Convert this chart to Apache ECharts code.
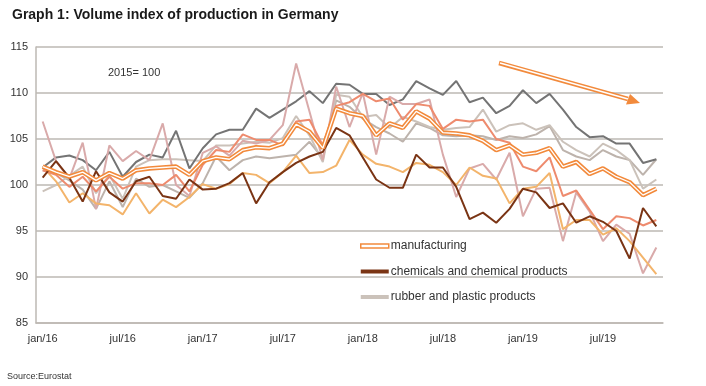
<!DOCTYPE html>
<html><head><meta charset="utf-8">
<script src="https://cdn.jsdelivr.net/npm/echarts@6/dist/echarts.min.js"></script>
<style>html,body{margin:0;padding:0;background:#fff}#c{width:706px;height:386px}</style>
</head><body><div id="c"></div>
<script>
var months = ['jan/16','feb/16','mar/16','apr/16','may/16','jun/16','jul/16','aug/16','sep/16','oct/16','nov/16','dec/16',
 'jan/17','feb/17','mar/17','apr/17','may/17','jun/17','jul/17','aug/17','sep/17','oct/17','nov/17','dec/17',
 'jan/18','feb/18','mar/18','apr/18','may/18','jun/18','jul/18','aug/18','sep/18','oct/18','nov/18','dec/18',
 'jan/19','feb/19','mar/19','apr/19','may/19','jun/19','jul/19','aug/19','sep/19','oct/19','nov/19'];
var manufacturing = [102.0,101.4,100.9,101.4,100.5,101.3,100.7,101.6,101.8,101.9,102.0,101.1,
 102.6,103.0,102.8,103.8,104.1,104.0,104.5,106.6,105.8,104.0,108.3,107.8,
 107.5,105.4,106.7,106.2,108.0,107.2,105.7,105.6,105.4,104.8,103.8,104.3,
 103.3,103.5,104.0,102.0,102.5,101.2,101.8,100.9,100.3,98.9,99.6];
var chemicals = [100.8,102.6,100.8,98.2,101.5,99.2,98.2,100.4,100.9,98.8,98.5,100.6,
 99.5,99.6,100.2,101.3,98.0,100.3,101.4,102.4,103.1,103.6,106.2,105.4,
 103.0,100.6,99.7,99.7,103.3,101.9,101.9,99.8,96.3,97.0,95.9,97.4,
 99.6,99.2,97.5,98.0,95.9,96.6,96.0,95.0,92.0,97.5,95.5];
var rubberPlastic = [99.3,100.0,101.0,102.0,99.1,101.1,98.5,102.0,102.7,102.8,102.8,102.7,
 102.6,104.3,104.3,104.5,104.7,104.6,105.1,107.5,105.4,102.5,109.8,109.6,
 107.4,107.6,106.2,107.4,106.9,106.3,106.0,106.2,106.3,108.2,105.8,106.5,
 106.7,106.0,106.5,104.7,103.8,103.1,104.5,103.8,102.7,99.6,100.6];
var seriesDarkGrey = [101.9,103.0,103.2,102.7,101.6,103.6,100.9,102.5,103.3,103.0,105.9,101.8,
 104.0,105.5,106.0,106.0,108.3,107.3,108.2,109.1,110.2,108.9,111.0,110.9,
 109.9,109.9,108.7,109.3,111.3,110.5,109.8,111.3,109.0,109.5,107.8,108.6,
 110.3,108.9,109.9,108.2,106.3,105.2,105.3,104.5,104.5,102.4,102.8];
var seriesSand = [102.0,100.4,98.1,99.1,98.0,97.8,96.8,99.1,96.9,98.4,97.6,98.7,
 100.1,99.6,100.1,101.3,101.1,100.2,101.4,103.2,101.3,101.4,102.1,104.9,
 103.3,102.3,102.0,101.4,102.4,102.2,101.4,100.0,101.9,101.0,100.7,98.0,
 99.6,99.8,101.3,95.2,96.2,96.2,94.6,95.3,93.9,92.1,90.3];
var seriesCoral = [101.6,101.1,99.8,100.9,99.3,100.9,99.6,100.2,100.2,100.0,101.1,99.3,
 102.2,103.8,103.6,105.5,104.9,104.9,104.3,106.9,107.1,104.3,108.6,109.0,
 109.9,109.1,109.4,107.1,108.8,108.6,106.1,107.1,106.9,107.1,105.0,104.6,
 102.0,101.5,103.0,98.8,99.4,97.3,95.2,96.6,96.4,95.6,96.2];
var seriesPink = [106.9,102.6,100.7,104.6,97.4,104.3,102.6,103.7,102.7,106.7,100.0,98.8,
 103.5,104.2,103.2,104.8,104.5,104.9,106.5,113.2,108.0,102.7,110.7,106.3,
 110.0,103.3,109.6,108.8,108.8,109.3,103.3,98.7,101.8,102.3,100.6,103.5,
 96.6,99.6,99.7,93.9,99.2,97.1,93.9,95.7,94.7,90.4,93.2];
var seriesGrey2 = [101.6,101.3,100.5,99.5,97.4,100.4,97.6,100.7,99.8,100.0,99.3,98.6,
 100.2,103.1,101.6,102.7,103.1,102.9,103.1,103.3,104.7,102.9,109.2,108.5,
 107.2,106.3,105.6,104.7,106.7,106.2,105.4,105.3,105.4,105.3,104.9,105.3,
 105.1,105.5,106.4,103.8,103.1,102.7,103.8,103.1,102.7,101.1,102.8];
var yTicks = {min: 85, max: 115, interval: 5};

var FONT = 'Liberation Sans, Arial, sans-serif';
var NARROW = 'Liberation Sans Narrow, Liberation Sans, Arial, sans-serif';
function ln(name, data, color, w, z) {
  return {name: name, type: 'line', data: data, symbol: 'none', z: z || 2,
    lineStyle: {color: color, width: w}, itemStyle: {color: color}, emphasis: {disabled: true}};
}
var chart = echarts.init(document.getElementById('c'), null, {renderer: 'canvas'});
chart.setOption({
  animation: false,
  backgroundColor: '#fff',
  title: {text: 'Graph 1: Volume index of production in Germany', left: 7, top: 3,
    textStyle: {fontFamily: FONT, fontSize: 14, fontWeight: 'bold', color: '#1a1a1a'}},
  grid: {left: 36, right: 43, top: 47, bottom: 63},
  legend: {orient: 'vertical', left: 355, top: 235, itemGap: 13.5, itemWidth: 28, itemHeight: 4,
    textStyle: {fontFamily: FONT, fontSize: 12, color: '#333', padding: [0, 0, 0, -3]},
    data: [
      {name: 'manufacturing', icon: 'rect', itemStyle: {color: '#fff', borderColor: '#F28A3C', borderWidth: 1.5}},
      {name: 'chemicals and chemical products', icon: 'rect', itemStyle: {color: '#7A3414'}},
      {name: 'rubber and plastic products', icon: 'rect', itemStyle: {color: '#CBC2BA'}}
    ]},
  xAxis: {type: 'category', data: months, boundaryGap: true,
    axisLine: {lineStyle: {color: '#BDB8B3', width: 1.5}},
    axisTick: {show: false},
    axisLabel: {interval: 5, margin: 10, fontFamily: NARROW, fontSize: 11, color: '#333'}},
  yAxis: {type: 'value', min: yTicks.min, max: yTicks.max, interval: yTicks.interval,
    axisLine: {show: true, lineStyle: {color: '#BDB8B3', width: 1.5}},
    axisTick: {show: false},
    splitLine: {lineStyle: {color: '#BDB8B3', width: 1.5}},
    axisLabel: {margin: 8, fontFamily: FONT, fontSize: 11, color: '#333'}},
  graphic: [
    {type: 'text', left: 108, top: 67, style: {text: '2015= 100', font: '11px ' + FONT, fill: '#333'}},
    {type: 'text', left: 7, top: 372, style: {text: 'Source:Eurostat', font: '9px ' + NARROW, fill: '#333'}},
    {type: 'line', shape: {x1: 499, y1: 63, x2: 628, y2: 99}, style: {stroke: '#F28A3C', lineWidth: 4.5}, z: 10},
    {type: 'line', shape: {x1: 500, y1: 63, x2: 628, y2: 99}, style: {stroke: '#fff', lineWidth: 1.5}, z: 11},
    {type: 'polygon', shape: {points: [[640, 103], [626, 104.5], [630, 94]]}, style: {fill: '#F28A3C'}, z: 12}
  ],
  series: [
    ln('grey2', seriesGrey2, '#BDB3AC', 2, 2),
    ln('rubber and plastic products', rubberPlastic, '#CBC2BA', 2, 2),
    ln('darkgrey', seriesDarkGrey, '#747474', 2, 3),
    ln('pink', seriesPink, '#D9AAAA', 2, 3),
    ln('sand', seriesSand, '#F3B46B', 2, 3),
    ln('coral', seriesCoral, '#EE8B6E', 2, 3),
    ln('chemicals and chemical products', chemicals, '#7A3414', 2, 4),
    ln('manufacturing', manufacturing, '#F28A3C', 4.5, 5),
    {name: 'manufacturing-inner', type: 'line', data: manufacturing, symbol: 'none', z: 6,
      lineStyle: {color: '#fff', width: 1.3}, emphasis: {disabled: true}}
  ]
});
</script></body></html>
